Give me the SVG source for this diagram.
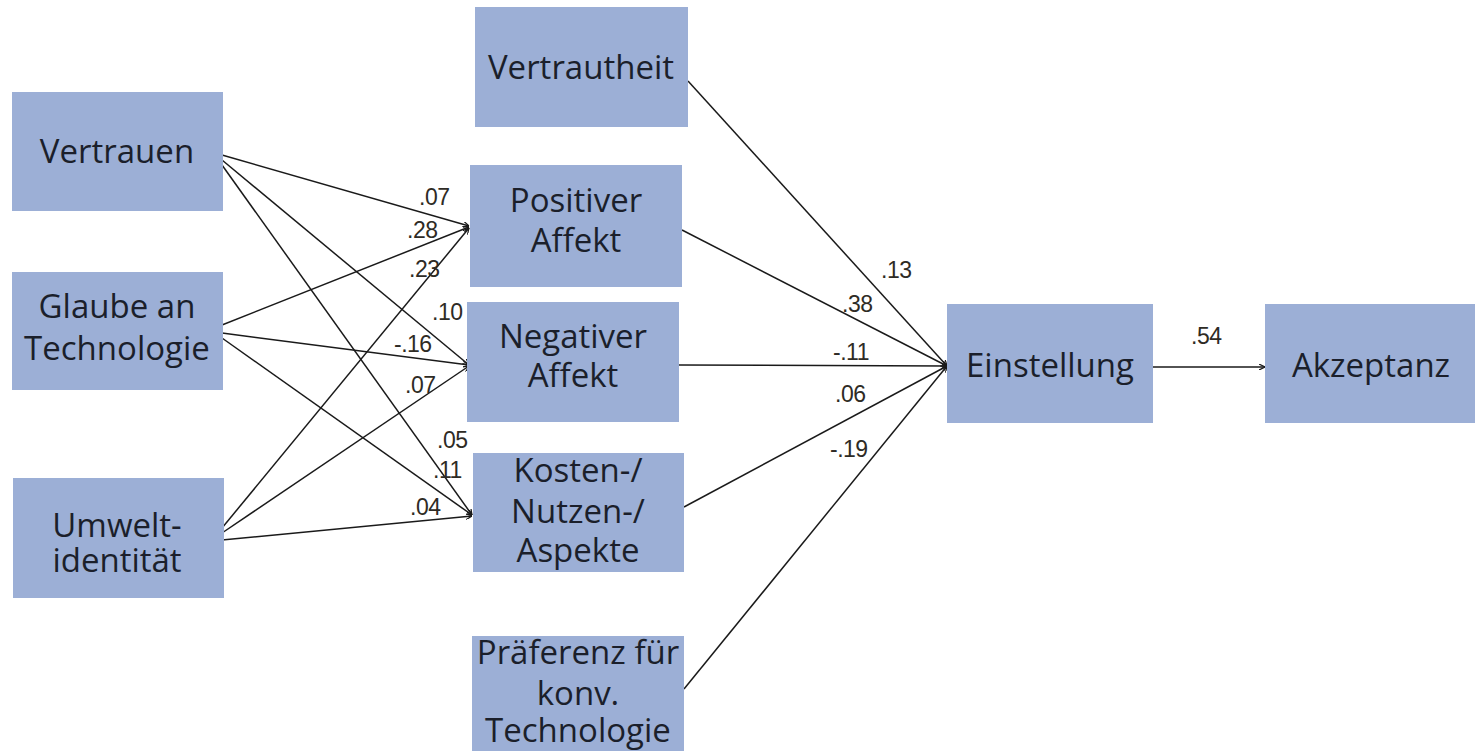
<svg xmlns="http://www.w3.org/2000/svg" width="1475" height="751" viewBox="0 0 1475 751">
<defs>
<style>
.box{fill:#9cafd6;}
.t{font-family:"Open Sans","Noto Sans",sans-serif;font-size:33px;fill:#1b1f2b;text-anchor:middle;}
.lbl{font-family:"Liberation Sans",Arial,sans-serif;font-size:23px;fill:#2e2b25;letter-spacing:-0.5px;}
.c{stroke:#1a1a1a;stroke-width:1.5;fill:none;marker-end:url(#arr);}
</style>
<marker id="arr" viewBox="0 0 6 6" refX="6" refY="3" markerWidth="6" markerHeight="6" markerUnits="userSpaceOnUse" orient="auto">
<path d="M0,0 L6,3 L0,6" fill="none" stroke="#1a1a1a" stroke-width="1.2"/>
</marker>
</defs>
<rect width="1475" height="751" fill="#ffffff"/>

<g id="connectors">
<line class="c" x1="222" y1="155" x2="469" y2="226"/>
<line class="c" x1="222" y1="160" x2="469" y2="365"/>
<line class="c" x1="222" y1="165" x2="472" y2="515"/>
<line class="c" x1="222" y1="325" x2="469" y2="227"/>
<line class="c" x1="222" y1="333" x2="469" y2="365"/>
<line class="c" x1="222" y1="338" x2="472" y2="515"/>
<line class="c" x1="222" y1="528" x2="469" y2="228"/>
<line class="c" x1="222" y1="533" x2="469" y2="366"/>
<line class="c" x1="222" y1="540" x2="472" y2="516"/>
<line class="c" x1="688" y1="81" x2="947" y2="366"/>
<line class="c" x1="682" y1="230" x2="947" y2="366"/>
<line class="c" x1="679" y1="365" x2="947" y2="366"/>
<line class="c" x1="684" y1="507" x2="947" y2="366"/>
<line class="c" x1="684" y1="689" x2="947" y2="366"/>
<line class="c" x1="1153" y1="367" x2="1265" y2="367"/>
<g id="labels">
<text class="lbl" x="419" y="205">.07</text>
<text class="lbl" x="407" y="238">.28</text>
<text class="lbl" x="409" y="277">.23</text>
<text class="lbl" x="432" y="320">.10</text>
<text class="lbl" x="394" y="352">-.16</text>
<text class="lbl" x="405" y="393">.07</text>
<text class="lbl" x="437" y="448">.05</text>
<text class="lbl" x="433" y="478">.11</text>
<text class="lbl" x="410" y="515">.04</text>
<text class="lbl" x="881" y="278">.13</text>
<text class="lbl" x="842" y="312">.38</text>
<text class="lbl" x="833" y="360">-.11</text>
<text class="lbl" x="835" y="402">.06</text>
<text class="lbl" x="830" y="457">-.19</text>
<text class="lbl" x="1191" y="344">.54</text>
</g>
</g>

<g id="vertrauen"><rect class="box" x="12" y="92" width="211" height="119"/><text class="t" x="117" y="163">Vertrauen</text></g>
<g id="glaube"><rect class="box" x="12" y="272" width="211" height="118"/><text class="t" x="117" y="318">Glaube an</text><text class="t" x="117" y="360">Technologie</text></g>
<g id="umwelt"><rect class="box" x="13" y="478" width="211" height="120"/><text class="t" x="117" y="537">Umwelt-</text><text class="t" x="117" y="572">identität</text></g>
<g id="vertrautheit"><rect class="box" x="475" y="7" width="213" height="120"/><text class="t" x="581" y="79">Vertrautheit</text></g>
<g id="positiver"><rect class="box" x="470" y="165" width="212" height="122"/><text class="t" x="576" y="212">Positiver</text><text class="t" x="576" y="252">Affekt</text></g>
<g id="negativer"><rect class="box" x="467" y="302" width="212" height="120"/><text class="t" x="573" y="348">Negativer</text><text class="t" x="573" y="387">Affekt</text></g>
<g id="kosten"><rect class="box" x="473" y="453" width="211" height="119"/><text class="t" x="578" y="482">Kosten-/</text><text class="t" x="578" y="523">Nutzen-/</text><text class="t" x="578" y="562">Aspekte</text></g>
<g id="praeferenz"><rect class="box" x="472" y="636" width="212" height="115"/><text class="t" x="578" y="664">Präferenz für</text><text class="t" x="578" y="705">konv.</text><text class="t" x="578" y="742">Technologie</text></g>
<g id="einstellung"><rect class="box" x="947" y="304" width="206" height="119"/><text class="t" x="1050" y="377">Einstellung</text></g>
<g id="akzeptanz"><rect class="box" x="1265" y="304" width="210" height="119"/><text class="t" x="1371" y="377">Akzeptanz</text></g>
</svg>
